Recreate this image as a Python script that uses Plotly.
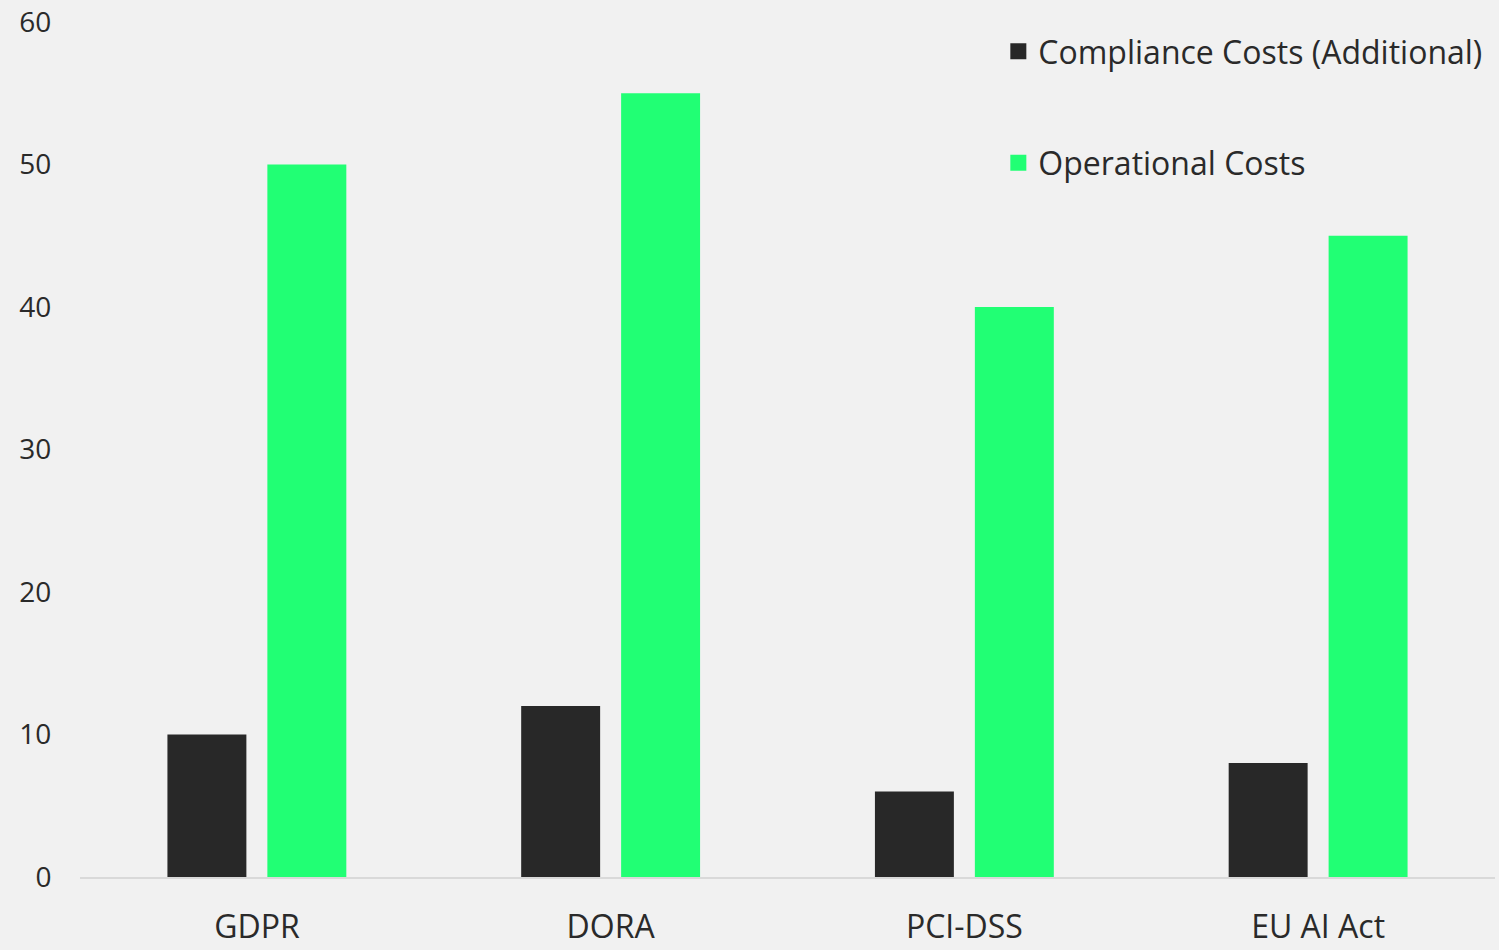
import plotly.graph_objects as go

categories = ["GDPR", "DORA", "PCI-DSS", "EU AI Act"]
compliance_costs = [10, 12, 6, 8]
operational_costs = [50, 55, 40, 45]
y_ticks = [0, 10, 20, 30, 40, 50, 60]
series_names = ["Compliance Costs (Additional)", "Operational Costs"]
series_colors = ["#282828", "#21ff74"]

FONT = "Open Sans"
TEXT = "#2a2a2a"
BG = "#f1f1f1"

fig = go.Figure()
for name, vals, col, grp in zip(series_names, [compliance_costs, operational_costs], series_colors, ["a", "b"]):
    fig.add_trace(go.Bar(
        x=categories, y=vals, name=name,
        marker=dict(color=col, line=dict(width=0)), legendgroup=grp, showlegend=False,
    ))
# legend entries with larger square symbols
for name, col, grp in zip(series_names, series_colors, ["a", "b"]):
    fig.add_trace(go.Scatter(
        x=[None], y=[None], mode="markers", name=name, legendgroup=grp,
        marker=dict(symbol="square", size=20, color=col, line=dict(width=0)),
    ))

fig.update_layout(
    width=1499, height=950,
    paper_bgcolor=BG, plot_bgcolor=BG,
    margin=dict(l=80, r=4, t=22, b=73),
    barmode="group", bargap=0.435, bargroupgap=0.21,
    font=dict(family=FONT, color=TEXT, size=28),
    legend=dict(
        x=0.649, xanchor="left", y=0.9977, yanchor="top",
        bgcolor="rgba(0,0,0,0)", font=dict(size=32, family=FONT, color=TEXT),
        tracegroupgap=67, itemwidth=30, itemsizing="trace",
    ),
    xaxis=dict(
        showgrid=False, showline=True, linecolor="#d9d9d9", linewidth=2,
        ticks="", tickfont=dict(size=32, family=FONT, color=TEXT),
        ticklabelstandoff=21, automargin=False,
    ),
    yaxis=dict(
        range=[0, 60], tickvals=y_ticks, showgrid=False, zeroline=False,
        showline=False, ticks="outside", ticklen=22, tickcolor="rgba(0,0,0,0)",
        tickfont=dict(size=28, family=FONT, color=TEXT), automargin=False,
    ),
)

fig.write_html(
    "out.html",
    config={"displayModeBar": False},
    post_script="document.body.style.margin='0';document.body.style.background='" + BG + "';",
)
